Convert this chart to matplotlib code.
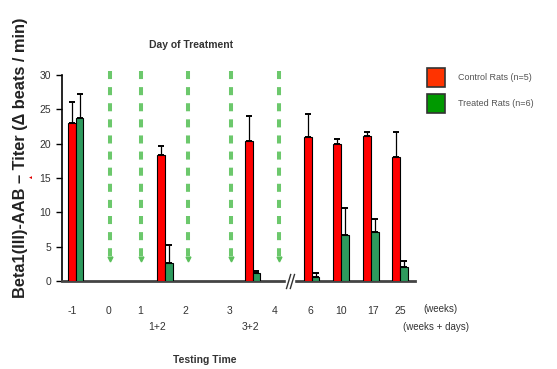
import matplotlib.pyplot as plt
from matplotlib.patches import Patch
from matplotlib.path import Path

plt.rcParams["font.family"] = ["Liberation Sans", "DejaVu Sans"]

# Beta1(III)-AAB titer per testing time
groups = ["-1", "1+2", "3+2", "6", "10", "17", "25"]
control = [23.0, 18.3, 20.4, 20.9, 20.0, 21.1, 18.0]
control_err = [3.1, 1.4, 3.6, 3.4, 0.7, 0.6, 3.7]
treated = [23.8, 2.6, 1.2, 0.6, 6.7, 7.2, 2.1]
treated_err = [3.5, 2.6, 0.3, 0.5, 3.9, 1.8, 0.8]

week_labels = ["-1", "0", "1", "2", "3", "4", "6", "10", "17", "25"]
day_labels = ["1+2", "3+2"]
treatment_weeks = ["0", "1", "2", "3", "4"]

# horizontal layout of the timeline (axis units)
group_x = [13.7, 103, 190.5, 249.7, 279, 309, 338]
week_x = [10, 46, 78, 123, 168, 213, 248, 279, 311, 338]
day_x = [95, 188]
treat_x = [48, 78.7, 126.3, 168.7, 217]
bar_w = 7.7

fig = plt.figure(figsize=(5.57, 3.69), dpi=100)
ax = fig.add_axes([62 / 557, 88 / 369, 353 / 557, 206 / 369])

red_x = [x - bar_w / 2 for x in group_x]
green_x = [x + bar_w / 2 for x in group_x]
ax.bar(red_x, control, width=bar_w, color="#ff0000", edgecolor="black", linewidth=0.8, zorder=3)
ax.bar(green_x, treated, width=bar_w, color="#2e9a5e", edgecolor="black", linewidth=0.8, zorder=3)
ax.errorbar(red_x, control, yerr=[[0] * len(control), control_err], fmt="none",
            ecolor="black", elinewidth=0.9, capsize=2.5, capthick=1.4, zorder=2)
ax.errorbar(green_x, treated, yerr=[[0] * len(treated), treated_err], fmt="none",
            ecolor="black", elinewidth=0.9, capsize=2.5, capthick=1.4, zorder=2)

# treatment days: dashed arrows down to the axis
for x in treat_x:
    ax.plot([x, x], [30.6, 3.6], color="#6cc86c", lw=2.9, linestyle=(0, (2, 2)),
            clip_on=False, zorder=1)
    ax.plot([x], [3.2], marker="v", color="#5cc05c", markersize=3.5, clip_on=False, zorder=1)

ax.set_xlim(0, 353)
ax.set_ylim(0, 30)
ax.set_yticks(range(0, 31, 5))
ax.set_xticks(week_x)
ax.set_xticklabels(week_labels)
ax.tick_params(axis="x", length=0, pad=18, labelsize=7.5, labelcolor="#333333")
ax.tick_params(axis="y", direction="out", length=4, width=1, pad=4, labelsize=7.5,
               labelcolor="#333333")
for side in ["top", "right"]:
    ax.spines[side].set_visible(False)
ax.spines["left"].set_linewidth(1.2)
ax.spines["bottom"].set_linewidth(2)
ax.spines["bottom"].set_color("#444444")

for label, x in zip(day_labels, day_x):
    ax.text(x, -0.225, label, transform=ax.get_xaxis_transform(), ha="center", va="center",
            fontsize=7.5, color="#333333")

# axis break between week 4 and week 6
brk = Path([(-0.55, -1), (0.05, 1), (-0.05, -1), (0.55, 1)],
           [Path.MOVETO, Path.LINETO, Path.MOVETO, Path.LINETO])
ax.plot([228], [0], marker="s", markersize=6, color="white", clip_on=False, zorder=4)
ax.plot([228], [0], marker=brk, markersize=11, color="#333333", markeredgewidth=1,
        clip_on=False, zorder=5)

fig.text(191.5 / 557, 1 - 45 / 369, "Day of Treatment", ha="center", va="center",
         fontsize=7.5, fontweight="bold", color="#333333")
fig.text(205 / 557, 1 - 360 / 369, "Testing Time", ha="center", va="center",
         fontsize=7.5, fontweight="bold", color="#333333")
fig.text(423 / 557, 1 - 309 / 369, "(weeks)", ha="left", va="center",
         fontsize=7, color="#333333")
fig.text(403 / 557, 1 - 327 / 369, "(weeks + days)", ha="left", va="center",
         fontsize=7, color="#333333")

fig.text(21 / 557, 1 - 158 / 369, "Beta1(III)-AAB \u2013 Titer (\u0394 beats / min)",
         rotation=90, ha="center", va="center", fontsize=11.8, fontweight="bold",
         color="#222222")
fig.text(31 / 557, 1 - 177 / 369, "\u25b2", rotation=90, ha="center", va="center",
         fontsize=3.5, color="#e00000")

handles = [Patch(facecolor="#ff3300", edgecolor="#333333", linewidth=1.2),
           Patch(facecolor="#009900", edgecolor="#333333", linewidth=1.2)]
fig.legend(handles, ["Control Rats (n=5)", "Treated Rats (n=6)"],
           loc="upper left", bbox_to_anchor=(419 / 557, 1 - 60 / 369), frameon=False,
           fontsize=6.5, handlelength=2.0, handleheight=2.9, labelspacing=0.75,
           handletextpad=1.4, labelcolor="#555555")

fig.savefig("out.png", dpi=100)
